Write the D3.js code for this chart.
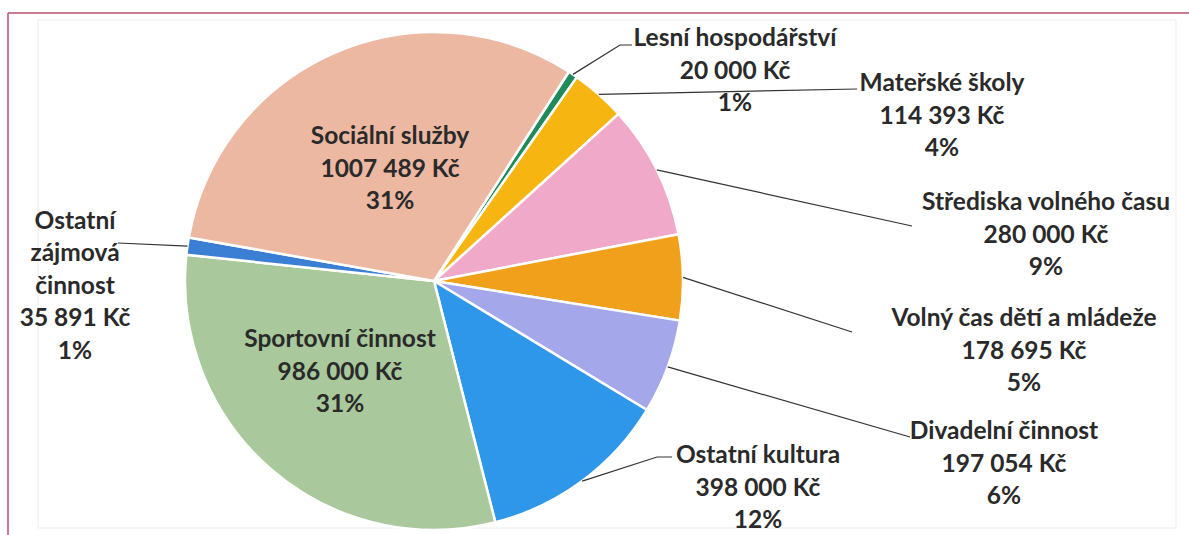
<!DOCTYPE html>
<html>
<head>
<meta charset="utf-8">
<script src="https://d3js.org/d3.v7.min.js"></script>
<style>
  body { margin: 0; background: #fff; }
  svg { display: block; }
  text { font-family: Lato, "Open Sans", sans-serif; font-weight: bold; fill: #2a2a2a; }
</style>
</head>
<body>
<script>

// data, clockwise from the thin green slice
var categories = ["Lesní hospodářství", "Mateřské školy", "Střediska volného času",
  "Volný čas dětí a mládeže", "Divadelní činnost", "Ostatní kultura",
  "Sportovní činnost", "Ostatní zájmová činnost", "Sociální služby"];
var values = [20000, 114393, 280000, 178695, 197054, 398000, 986000, 35891, 1007489];
var percents = ["1%", "4%", "9%", "5%", "6%", "12%", "31%", "1%", "31%"];
var colors = ["#1f8a5a", "#f6b511", "#f1a9c9", "#f1a01c", "#a4a8ea", "#2f97ea",
  "#a9c89c", "#3b7fd4", "#ecb8a2"];

// how each label is broken into lines
var nameLines = [["Lesní hospodářství"], ["Mateřské školy"], ["Střediska volného času"],
  ["Volný čas dětí a mládeže"], ["Divadelní činnost"], ["Ostatní kultura"],
  ["Sportovní činnost"], ["Ostatní", "zájmová", "činnost"], ["Sociální služby"]];

var W = 1189, H = 535;
var cx = 434, cy = 281, R = 249;

// "1007 489 Kč" style - only the last group is split off
function kc(v) {
  var th = Math.floor(v / 1000), rest = v % 1000;
  return th + " " + ("00" + rest).slice(-3) + " Kč";
}

var svg = d3.select("body").append("svg").attr("width", W).attr("height", H);

// scanned frame
svg.append("rect").attr("x", 38).attr("y", 20).attr("width", 1138).attr("height", 508)
    .attr("fill", "none").attr("stroke", "#ededed").attr("stroke-width", 1);
svg.append("line").attr("x1", 8).attr("y1", 13).attr("x2", W).attr("y2", 13)
    .attr("stroke", "#b5526a").attr("stroke-width", 1.5);
svg.append("line").attr("x1", 8).attr("y1", 13).attr("x2", 8).attr("y2", H)
    .attr("stroke", "#b5526a").attr("stroke-width", 1.5);

var start = 32.8 * Math.PI / 180;
var pie = d3.pie().sort(null).startAngle(start).endAngle(start + 2 * Math.PI);
var arcs = pie(values);
var arc = d3.arc().innerRadius(0).outerRadius(R);

var g = svg.append("g").attr("transform", "translate(" + cx + "," + cy + ")");
g.selectAll("path").data(arcs).enter().append("path")
    .attr("d", arc)
    .attr("fill", (d, i) => colors[i])
    .attr("stroke", "#fff").attr("stroke-width", 2.5).attr("stroke-linejoin", "round");

// label placement (centre of text block) and leader line bend points
var labelPos = [
  {x: 735, y: 70, line: [[620, 45], [632, 45]]},
  {x: 942, y: 115, line: [[857, 89]]},
  {x: 1046, y: 234, line: [[912, 226]]},
  {x: 1024, y: 350, line: [[852, 332]]},
  {x: 1004, y: 463, line: [[910, 437]]},
  {x: 758, y: 487, line: [[657, 457], [672, 457]]},
  {x: 340, y: 371, line: null},
  {x: 75, y: 285, line: [[118, 243]]},
  {x: 390, y: 168, line: null}
];

var lineH = 32.5;
arcs.forEach(function(d, i) {
  var p = labelPos[i];
  var lines = nameLines[i].concat([kc(values[i]), percents[i]]);
  if (p.line) {
    var a = (d.startAngle + d.endAngle) / 2;
    var pts = [[cx + R * Math.sin(a), cy - R * Math.cos(a)]].concat(p.line);
    svg.append("path").attr("d", d3.line()(pts))
        .attr("fill", "none").attr("stroke", "#333").attr("stroke-width", 1.2);
  }
  var y0 = p.y - (lines.length - 1) * lineH / 2;
  var t = svg.append("text").attr("text-anchor", "middle").style("font-size", "24.5px");
  lines.forEach(function(s, k) {
    t.append("tspan").attr("x", p.x).attr("y", y0 + k * lineH).attr("dy", "0.35em").text(s);
  });
});

</script>
</body>
</html>
